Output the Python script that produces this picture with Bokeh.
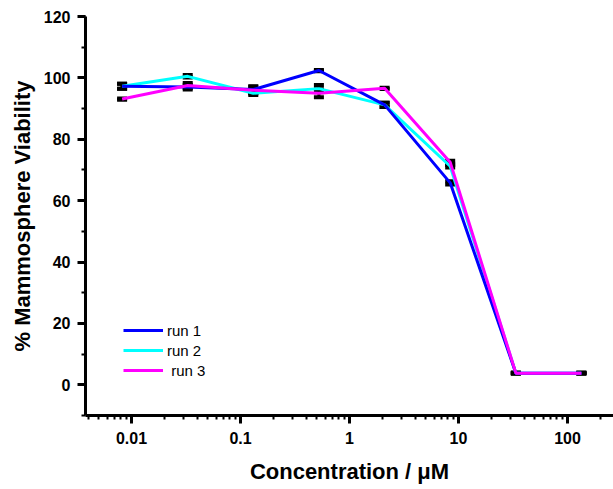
from bokeh.plotting import figure
from bokeh.models import (ColumnDataSource, Whisker, TeeHead, FixedTicker,
                          SingleIntervalTicker, CustomJSTickFormatter, Legend,
                          LegendItem, Range1d)
from bokeh.embed import file_html
from bokeh.resources import INLINE

# ---- data ----
concentration = [0.0082, 0.0328, 0.131, 0.524, 2.1, 8.39, 33.6, 134.0]
run1 = [97.3, 97.0, 96.2, 102.4, 91.2, 65.8, 3.8, 3.8]
run2 = [97.3, 100.5, 95.0, 96.5, 91.2, 71.2, 3.8, 3.8]
run3 = [93.1, 97.5, 96.0, 95.0, 96.6, 72.5, 3.8, 3.8]
run1_err = [0.8, 0.8, 1.1, 0.2, 0.7, 0.5, 0.1, 0.1]
run2_err = [0.8, 0.4, 0.6, 1.2, 0.7, 0.4, 0.1, 0.1]
run3_err = [0.2, 0.8, 1.1, 1.3, 0.2, 0.5, 0.1, 0.1]
series_labels = ["run 1", "run 2", " run 3"]
series_colors = ["#0000ff", "#00ffff", "#ff00ff"]
x_ticks = [0.01, 0.1, 1, 10, 100]
x_tick_labels = ["0.01", "0.1", "1", "10", "100"]
x_title = "Concentration / \u03bcM"
y_title = "% Mammosphere Viability"

FONT = "Liberation Sans"

p = figure(width=613, height=489, x_axis_type="log",
           x_range=Range1d(10 ** -2.422, 10 ** 2.422),
           y_range=Range1d(-10, 120),
           output_backend="svg", toolbar_location=None,
           min_border_left=85, min_border_right=0,
           min_border_top=16, min_border_bottom=74)
p.grid.visible = False
p.outline_line_color = None
p.background_fill_color = "white"
p.border_fill_color = "white"

# ---- series (drawn cyan, blue, magenta so magenta sits on top) ----
values = [run1, run2, run3]
errs = [run1_err, run2_err, run3_err]
renderers = {}
for i in [1, 0, 2]:
    src = ColumnDataSource(dict(x=concentration, y=values[i]))
    renderers[i] = p.line("x", "y", source=src, line_color=series_colors[i],
                          line_width=3)

for i in [1, 0, 2]:
    esrc = ColumnDataSource(dict(
        x=concentration,
        upper=[v + e for v, e in zip(values[i], errs[i])],
        lower=[v - e for v, e in zip(values[i], errs[i])]))
    w = Whisker(source=esrc, base="x", upper="upper", lower="lower",
                line_color="black", line_width=3,
                upper_head=TeeHead(size=10, line_width=4, line_color="black"),
                lower_head=TeeHead(size=10, line_width=4, line_color="black"))
    p.add_layout(w)

# ---- axes ----
xa = p.xaxis[0]
minor = [m * 10.0 ** k for k in range(-3, 3) for m in range(2, 10)]
xa.ticker = FixedTicker(ticks=x_ticks, minor_ticks=minor)
xa.formatter = CustomJSTickFormatter(
    args=dict(tv=x_ticks, tl=x_tick_labels),
    code="""
    for (let i = 0; i < tv.length; i++) {
        if (Math.abs(Math.log10(tv[i]) - Math.log10(tick)) < 1e-6) return tl[i];
    }
    return '';
    """)
ya = p.yaxis[0]
ya.ticker = SingleIntervalTicker(interval=20, num_minor_ticks=2)

for ax in (xa, ya):
    ax.axis_line_width = 3
    ax.axis_line_color = "black"
    ax.major_tick_line_width = 3
    ax.major_tick_line_color = "black"
    ax.minor_tick_line_width = 2
    ax.minor_tick_line_color = "black"
    ax.major_tick_out = 8
    ax.major_tick_in = 0
    ax.minor_tick_out = 4
    ax.minor_tick_in = 0
    ax.major_label_text_font = FONT
    ax.major_label_text_font_style = "bold"
    ax.major_label_text_font_size = "16px"
    ax.major_label_text_color = "black"
    ax.axis_label_text_font = FONT
    ax.axis_label_text_font_style = "bold"
    ax.axis_label_text_font_size = "22px"
    ax.axis_label_text_color = "black"

xa.axis_label = x_title
ya.axis_label = y_title
xa.major_label_standoff = 8
ya.major_label_standoff = 7
xa.axis_label_standoff = 12
ya.axis_label_standoff = 6

# ---- legend ----
legend = Legend(items=[LegendItem(label=series_labels[i], renderers=[renderers[i]])
                       for i in range(3)],
                location=(38, 35), border_line_color=None,
                background_fill_alpha=0, padding=0, margin=0, spacing=0,
                glyph_width=40, glyph_height=20, label_height=20,
                label_standoff=4, label_text_font=FONT,
                label_text_font_size="15px", label_text_color="black")
p.add_layout(legend)

open("out.html", "w").write(file_html(p, INLINE))
